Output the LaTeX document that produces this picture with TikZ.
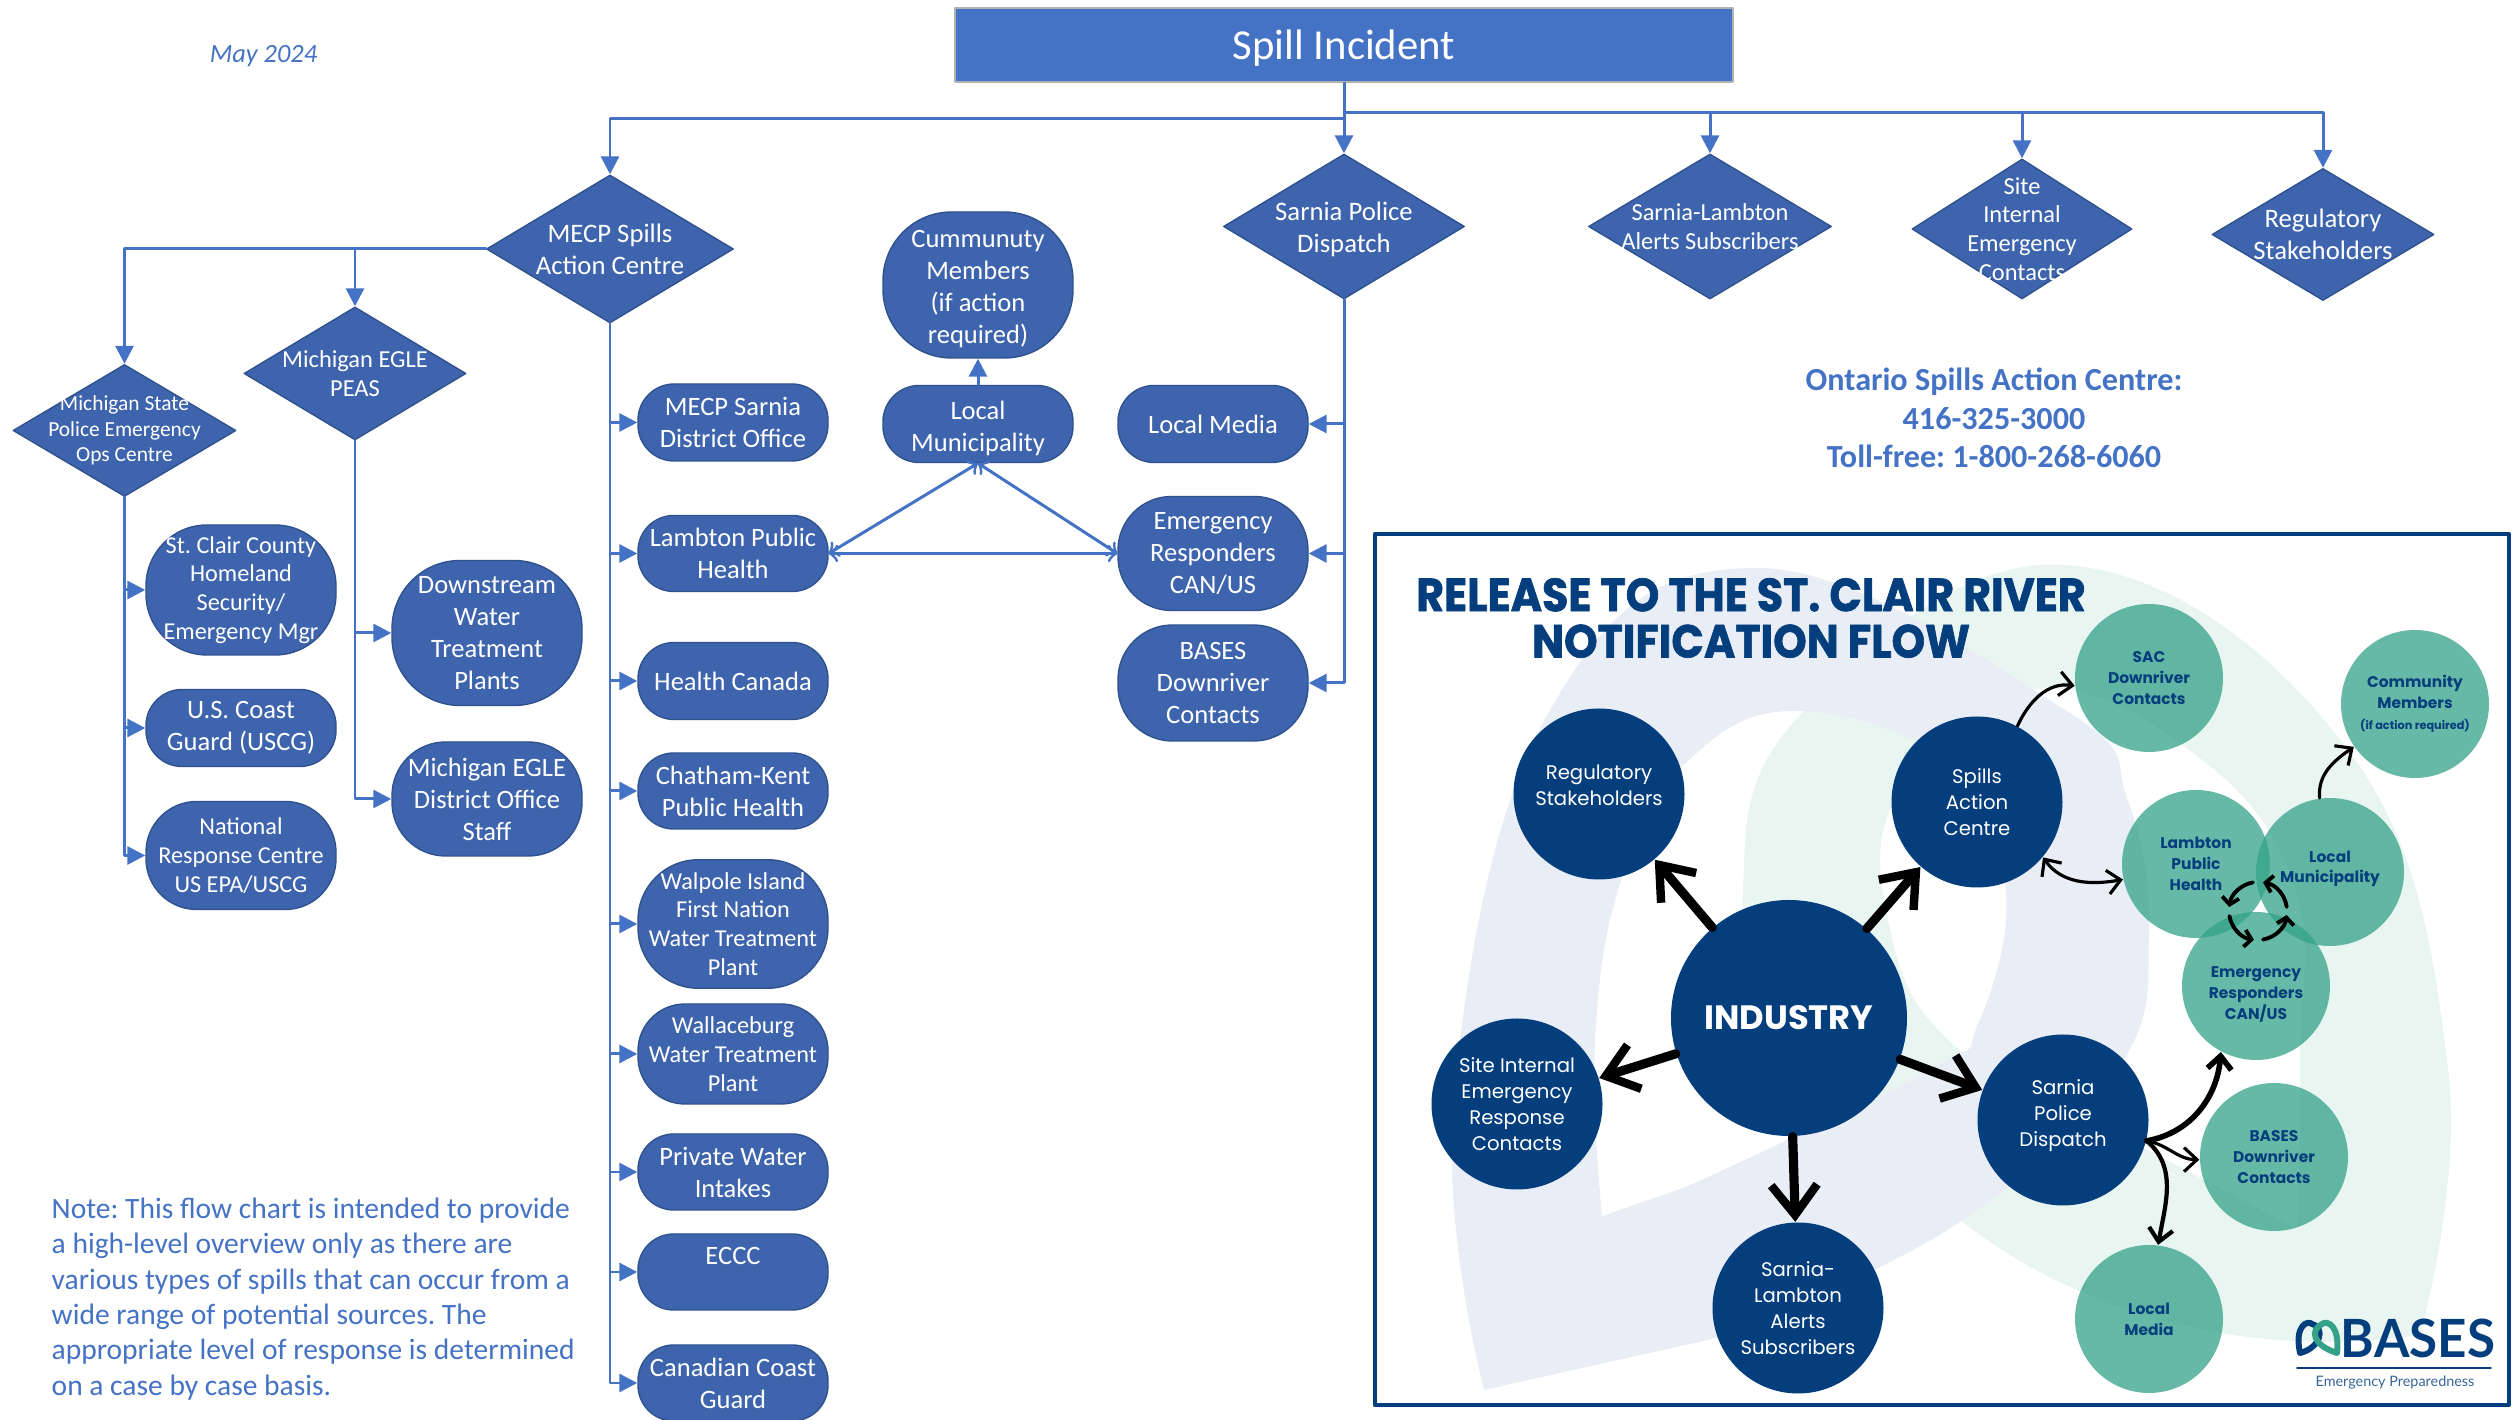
\documentclass[tikz,border=0pt]{standalone}
\usepackage{fontspec}
\setmainfont{Carlito}
\newfontfamily\circfont{Poppins}
\newfontfamily\logofont{Lato}
\newfontfamily\titlefont{Poppins}[BoldFeatures={FakeBold=1.5}]
\usetikzlibrary{calc,arrows.meta,shapes.geometric}
\definecolor{linecol}{HTML}{4472C4}
\definecolor{boxcol}{HTML}{3E64AD}
\definecolor{edgecol}{HTML}{2F528F}
\definecolor{navycol}{HTML}{043E7D}
\definecolor{tealcol}{HTML}{33A288}
\definecolor{paleblue}{HTML}{E9EDF5}
\definecolor{palegreen}{HTML}{E8F5F1}
\newcommand{\lowr}[1]{\rule{0pt}{#1}}
\tikzset{
  conn/.style={->,draw=linecol,line width=0.85pt},
  tri/.style={<->,>=to,draw=linecol,line width=0.85pt},
  pill/.style={draw=edgecol,line width=0.4pt,fill=boxcol,text=white,align=center,inner sep=0pt,
    minimum width=1.9cm,minimum height=#1 cm,rounded corners=0.47*#1 cm,font=\fontsize{7.55}{9.1}\selectfont},
  tight/.style={font=\fontsize{6.9}{8.2}\selectfont},
  dia/.style 2 args={diamond,draw=edgecol,line width=0.4pt,fill=boxcol,inner sep=0pt,
    minimum width=#1 cm,minimum height=#2 cm},
  dlab/.style={text=white,align=center,inner sep=0pt,font=\fontsize{7.6}{9.1}\selectfont},
  dlabsm/.style={dlab,font=\fontsize{6.1}{7.3}\selectfont},
  dlabmd/.style={dlab,font=\fontsize{6.95}{8.2}\selectfont},
  bluetxt/.style={text=linecol,inner sep=0pt},
  navycirc/.style={circle,fill=navycol,text=white,align=center,inner sep=0pt,minimum size=1.71cm,
    font=\circfont\fontsize{5.6}{7.4}\selectfont},
  tealcirc/.style={circle,fill=tealcol,fill opacity=0.75,text opacity=1,text=navycol,align=center,inner sep=0pt,
    minimum size=1.48cm,font=\circfont\bfseries\fontsize{4.4}{5.9}\selectfont},
  bigarrow/.style={-{Straight Barb[length=3mm,width=4.6mm,line width=2.4pt]},line width=2.6pt},
  curvearrow/.style={-{Straight Barb[length=1.3mm,width=2.4mm]},line width=0.9pt},
  curvearrows/.style={{Straight Barb[length=1.3mm,width=2.4mm]}-{Straight Barb[length=1.3mm,width=2.4mm]},line width=0.9pt}
}

\begin{document}
\frenchspacing
\begin{tikzpicture}[line cap=round,line join=round,>={Triangle[length=1.8mm,width=1.8mm]},x=1.0cm,y=1.0cm]
\useasboundingbox (0,0) rectangle (25.19,14.2);
\clip (0,0) rectangle (25.19,14.2);

% flow chart
\node[draw=black!30,line width=0.8pt,fill=linecol,text=white,minimum width=7.78cm,minimum height=0.74cm,font=\fontsize{12.15}{14}\selectfont] (spill) at (13.44,13.75) {\lowr{10.5pt}Spill Incident};

\node[dia={2.47}{1.48},label={[dlab]center:MECP Spills\\Action Centre}] (mecp) at (6.10,11.71) {};
\node[dia={2.22}{1.33},label={[dlabmd]center:Michigan EGLE\\PEAS}] (peas) at (3.55,10.465) {};
\node[dia={2.23}{1.32},label={[dlabsm]center:Michigan State\\Police Emergency\\Ops Centre}] (state) at (1.245,9.895) {};
\node[dia={2.41}{1.45},label={[dlab,yshift=-0.3mm]center:Sarnia Police\\Dispatch}] (police) at (13.44,11.935) {};
\node[dia={2.43}{1.45},label={[dlabmd]center:Sarnia-Lambton\\Alerts Subscribers}] (alerts) at (17.10,11.935) {};
\node[dia={2.20}{1.40},label={[dlabmd]center:Site\\Internal\\Emergency\\Contacts}] (site) at (20.22,11.91) {};
\node[dia={2.22}{1.32},label={[dlab]center:Regulatory\\Stakeholders}] (regs) at (23.23,11.855) {};

\node[pill=0.77] (msarnia) at (7.33,9.975) {MECP Sarnia\\District Office};
\node[pill=0.76] (lambton) at (7.33,8.665) {Lambton Public\\Health};
\node[pill=0.77] (healthcan) at (7.33,7.39) {Health Canada};
\node[pill=0.76] (chatham) at (7.33,6.29) {Chatham-Kent\\Public Health};
\node[pill=1.285,tight] (walpole) at (7.33,4.96) {Walpole Island\\First Nation\\Water Treatment\\Plant};
\node[pill=1.0,tight] (wallace) at (7.33,3.66) {Wallaceburg\\Water Treatment\\Plant};
\node[pill=0.76] (privatew) at (7.33,2.48) {Private Water\\Intakes};
\node[pill=0.76] (eccc) at (7.33,1.48) {ECCC\\~};
\node[pill=0.76] (coast) at (7.33,0.37) {Canadian Coast\\Guard};

\node[pill=1.30,tight] (stclair) at (2.41,8.30) {St. Clair County\\Homeland\\Security/\\Emergency Mgr};
\node[pill=0.77] (uscg) at (2.41,6.92) {U.S. Coast\\Guard (USCG)};
\node[pill=1.08,tight] (natl) at (2.41,5.645) {National\\Response Centre\\US EPA/USCG};
\node[pill=1.45] (downstream) at (4.87,7.87) {Downstream\\Water\\Treatment\\Plants};
\node[pill=1.14] (egleoff) at (4.87,6.21) {Michigan EGLE\\District Office\\Staff};

\node[pill=1.46] (cummunuty) at (9.78,11.35) {\lowr{7pt}Cummunuty\\Members\\(if action\\required)};
\node[pill=0.77] (localmun) at (9.78,9.96) {\lowr{7.5pt}Local\\Municipality};
\node[pill=0.77] (localmed) at (12.13,9.96) {Local Media};
\node[pill=1.14] (responders) at (12.13,8.665) {Emergency\\Responders\\CAN/US};
\node[pill=1.16] (basesbox) at (12.13,7.37) {BASES\\Downriver\\Contacts};

\draw[conn] (spill.south) -- (police.north);
\draw[conn] (spill.south) -- ++(0,-0.35) -| (mecp.north);
\foreach \n in {alerts,site,regs}
  \draw[conn] (spill.south) -- ++(0,-0.29) -| (\n.north);
\draw[conn] (mecp.west) -| (peas.north);
\draw[conn] (mecp.west) -| (state.north);
\foreach \n in {msarnia,lambton,healthcan,chatham,walpole,wallace,privatew,eccc,coast}
  \draw[conn] (mecp.south) |- (\n.west);
\foreach \n in {stclair,uscg,natl}
  \draw[conn] (state.south) |- (\n.west);
\foreach \n in {downstream,egleoff}
  \draw[conn] (peas.south) |- (\n.west);
\foreach \n in {localmed,responders,basesbox}
  \draw[conn] (police.south) |- (\n.east);
\draw[conn] (localmun.north) -- (cummunuty.south);
\draw[tri] (lambton.east) -- (localmun.south);
\draw[tri] (localmun.south) -- (responders.west);
\draw[tri] (lambton.east) -- (responders.west);

\node[bluetxt,font=\itshape\fontsize{7.5}{9}\selectfont] (date) at (2.635,13.64) {May 2024};
\node[bluetxt,align=center,font=\bfseries\fontsize{9.15}{11}\selectfont] (ontario) at (19.94,10.02) {Ontario Spills Action Centre:\\416-325-3000\\Toll-free: 1-800-268-6060};
\node[bluetxt,align=left,anchor=west,font=\fontsize{8.4}{10.05}\selectfont] (note) at (0.51,1.21) {Note: This flow chart is intended to provide\\a high-level overview only as there are\\various types of spills that can occur from a\\wide range of potential sources. The\\appropriate level of response is determined\\on a case by case basis.};

% inset
\fill[palegreen,even odd rule] plot[smooth,tension=0.7] coordinates {(24.2,0.85) (24.48,3.51) (23.46,6.73) (20.65,8.55) (18.04,7.09) (17.43,5.28) (17.9,3.6) (19.6,2.0)} -- cycle
  plot[smooth,tension=0.7] coordinates {(22.97,1.91) (23.0,3.51) (22.93,5.39) (21.85,6.73) (20.3,7.3) (19.0,6.3) (18.89,4.96) (19.57,3.72) (21.46,2.71)} -- cycle;
\fill[palegreen] (19.6,2.0) .. controls (20.8,1.05) and (22.5,0.6) .. (24.2,0.85) -- (24.27,1.3) -- (22.97,1.91) -- cycle;
\fill[paleblue,even odd rule] plot[smooth,tension=0.7] coordinates {(14.84,0.30) (14.54,3.24) (15.5,7.1) (17.57,8.52) (20.65,7.10) (21.28,6.19) (21.49,4.85) (21.18,3.51) (19.6,1.98) (17.21,0.83)} -- cycle
  plot[smooth,tension=0.7] coordinates {(16.02,2.04) (15.95,3.78) (16.21,5.39) (16.86,6.57) (18.0,7.09) (19.6,6.5) (20.06,5.28) (19.78,3.96) (19.3,3.5) (16.86,2.33)} -- cycle;
\draw[navycol,line width=1.2pt,line cap=butt] (13.75,0.15) rectangle (25.09,8.86);

\node[text=navycol,align=center,xscale=0.92,font=\titlefont\bfseries\fontsize{13.2}{13.2}\selectfont] (title) at (17.51,8.02) {RELEASE TO THE ST. CLAIR RIVER\\NOTIFICATION FLOW};

\node[navycirc,minimum size=2.36cm,font=\circfont\bfseries\fontsize{9.6}{12}\selectfont] (cindustry) at (17.89,4.02) {INDUSTRY};
\node[navycirc] (cregs) at (15.99,6.26) {Regulatory\\Stakeholders\rule[-5pt]{0pt}{0pt}};
\node[navycirc] (cspills) at (19.77,6.18) {Spills\\Action\\Centre};
\node[navycirc] (csite) at (15.17,3.16) {Site Internal\\Emergency\\Response\\Contacts};
\node[navycirc] (cpolice) at (20.63,3.00) {Sarnia\\Police\\Dispatch\rule[-4pt]{0pt}{0pt}};
\node[navycirc] (calerts) at (17.98,1.12) {Sarnia-\\Lambton\\Alerts\\Subscribers};

\node[tealcirc] (csac) at (21.49,7.42) {SAC\\Downriver\\Contacts};
\node[tealcirc] (ccomm) at (24.15,7.16) {Community\\Members\\{\fontsize{3.2}{4.2}\selectfont (if action required)}};
\node[tealcirc] (clambton) at (21.96,5.56) {Lambton\\Public\\Health};
\node[tealcirc] (cmun) at (23.30,5.48) {Local\\Municipality\rule[-3pt]{0pt}{0pt}};
\node[tealcirc] (cemerg) at (22.56,4.34) {\lowr{8pt}Emergency\\Responders\\CAN/US};
\node[tealcirc] (cbases) at (22.74,2.63) {BASES\\Downriver\\Contacts};
\node[tealcirc] (cmedia) at (21.49,1.01) {Local\\Media};

\foreach \n in {cregs,cspills,csite,cpolice,calerts}
  \draw[bigarrow] (cindustry) -- (\n);

\draw[curvearrow] (cspills.62) to[out=65,in=172] (csac.186);
\draw[curvearrows] (cspills.-40) to[out=-55,in=190] (clambton.192);
\draw[curvearrow] (cmun.98) to[out=95,in=215] (ccomm.215);
\draw[curvearrow,line width=1.6pt] (cpolice.-14) to[out=10,in=-95] (cemerg.-118);
\draw[curvearrow] (cpolice.-14) to[out=-10,in=180] (cbases.182);
\draw[curvearrow,line width=1.2pt] (cpolice.-14) to[out=-40,in=80] (cmedia.83);

\coordinate (hub) at (22.58,5.09);
\foreach \a in {8,100,190,280}
  \draw[line width=1.1pt,-{Straight Barb[length=0.7mm,width=1.7mm]}] ($(hub)+(\a:0.29)$) arc[start angle=\a,end angle=\a+72,radius=0.29];

% logo
\draw[navycol,line width=1.7pt] (23.0,0.67) .. controls (22.94,0.95) and (23.08,1.0) .. (23.12,0.96) .. controls (23.26,0.92) and (23.2,0.72) .. (23.0,0.67);
\draw[tealcol,line width=1.7pt] (23.37,0.67) .. controls (23.4,0.95) and (23.27,1.0) .. (23.22,0.96) .. controls (23.1,0.9) and (23.12,0.75) .. (23.37,0.67);
\node[text=navycol,xscale=0.97,inner sep=0pt,font=\logofont\bfseries\fontsize{15}{16}\selectfont] (baseslogo) at (24.18,0.82) {BASES};
\coordinate (rulea) at (22.97,0.52);
\coordinate (ruleb) at (24.91,0.52);
\draw[navycol,line width=0.5pt] (rulea) -- (ruleb);
\node[text=navycol!80,inner sep=0pt,font=\logofont\fontsize{4.1}{5}\selectfont] (bassub) at (23.95,0.37) {Emergency Preparedness};
\end{tikzpicture}
\end{document}
